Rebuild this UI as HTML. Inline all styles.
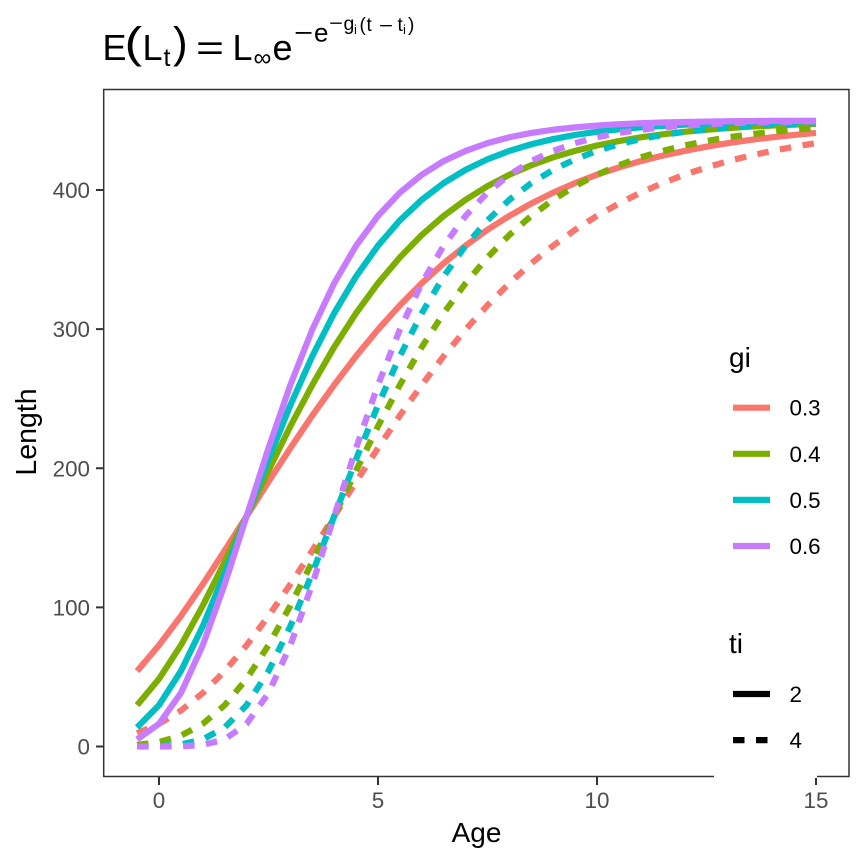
<!DOCTYPE html>
<html>
<head>
<meta charset="utf-8">
<title>Gompertz growth curves</title>
<style>
html,body{margin:0;padding:0;background:#fff;}
svg{display:block;}
text{font-family:"Liberation Sans",sans-serif;}
</style>
</head>
<body>
<svg id="chart" xmlns="http://www.w3.org/2000/svg" width="864" height="864" viewBox="0 0 864 864">
  <rect x="0" y="0" width="864" height="864" fill="#fff"/>
  <g id="series-layer"></g>
  <rect x="103.7" y="89.5" width="745.3" height="687" fill="none" stroke="#333" stroke-width="1.5"/>
  <g id="x-axis"></g>
  <g id="y-axis"></g>
  <text x="476.5" y="842" font-size="28" text-anchor="middle" fill="#000">Age</text>
  <text transform="translate(36,432) rotate(-90)" font-size="28.5" text-anchor="middle" fill="#000">Length</text>
  <g fill="#000">
    <text x="102.5" y="60" font-size="36">E</text>
    <text x="124.5" y="57.5" font-size="44" transform="translate(124.5,57.5) scale(1.2,1) translate(-124.5,-57.5)">(</text>
    <text x="142.5" y="60" font-size="36">L</text>
    <text x="163.5" y="66" font-size="25">t</text>
    <text x="173" y="57.5" font-size="44">)</text>
    <text x="196" y="60" font-size="36" textLength="28" lengthAdjust="spacingAndGlyphs">=</text>
    <text x="232.5" y="60" font-size="36">L</text>
    <text x="253.5" y="66" font-size="25">∞</text>
    <text x="272.5" y="60" font-size="36">e</text>
    <text x="294" y="41.5" font-size="26" textLength="19" lengthAdjust="spacingAndGlyphs">−</text>
    <text x="314" y="41.5" font-size="26">e</text>
    <text x="329" y="29.5" font-size="19" textLength="14" lengthAdjust="spacingAndGlyphs">−</text>
    <text x="343.5" y="30" font-size="19.5">g</text>
    <text x="354" y="34" font-size="13">i</text>
    <text x="359.5" y="31" font-size="19">(</text>
    <text x="366.5" y="31" font-size="19">t</text>
    <text x="379" y="32" font-size="19" textLength="14" lengthAdjust="spacingAndGlyphs">−</text>
    <text x="397.5" y="31" font-size="19">t</text>
    <text x="403" y="34" font-size="13">i</text>
    <text x="408" y="31" font-size="19">)</text>
  </g>
  <rect x="714" y="330" width="103" height="448" fill="#fff"/>
  <g id="legend-gi">
    <text x="729" y="367" font-size="28" fill="#000">gi</text>
  </g>
  <g id="legend-ti">
    <text x="729" y="653" font-size="28" fill="#000">ti</text>
  </g>
  <line x1="816" y1="778" x2="816" y2="785" stroke="#333" stroke-width="2"/>
</svg>
<script>
const ages = [-0.5,0,0.5,1,1.5,2,2.5,3,3.5,4,4.5,5,5.5,6,6.5,7,7.5,8,8.5,9,9.5,10,10.5,11,11.5,12,12.5,13,13.5,14,14.5,15];
const gi03ti2 = [54.2,72.8,93.8,116.6,140.8,165.5,190.3,214.5,237.9,259.9,280.6,299.7,317.1,333.0,347.3,360.0,371.4,381.4,390.3,398.1,405.0,411.0,416.2,420.8,424.7,428.1,431.1,433.7,436.0,437.9,439.6,441.0];
const gi03ti4 = [9.5,16.3,25.8,38.4,54.2,72.8,93.8,116.6,140.8,165.5,190.3,214.5,237.9,259.9,280.6,299.7,317.1,333.0,347.3,360.0,371.4,381.4,390.3,398.1,405.0,411.0,416.2,420.8,424.7,428.1,431.1,433.7];
const gi04ti2 = [29.7,48.6,72.8,101.3,132.7,165.5,198.4,230.2,259.9,287.1,311.5,333.0,351.6,367.7,381.4,393.0,402.8,411.0,417.8,423.5,428.1,432.0,435.2,437.9,440.0,441.8,443.3,444.5,445.5,446.3,447.0,447.5];
const gi04ti4 = [1.1,3.2,7.8,16.3,29.7,48.6,72.8,101.3,132.7,165.5,198.4,230.2,259.9,287.1,311.5,333.0,351.6,367.7,381.4,393.0,402.8,411.0,417.8,423.5,428.1,432.0,435.2,437.9,440.0,441.8,443.3,444.5];
const gi05ti2 = [13.7,29.7,54.2,86.5,124.6,165.5,206.5,245.4,280.6,311.5,337.9,360.0,378.2,393.0,405.0,414.5,422.1,428.1,432.9,436.6,439.6,441.8,443.6,445.0,446.1,447.0,447.6,448.2,448.6,448.9,449.1,449.3];
const gi05ti4 = [0.03,0.3,1.4,5.1,13.7,29.7,54.2,86.5,124.6,165.5,206.5,245.4,280.6,311.5,337.9,360.0,378.2,393.0,405.0,414.5,422.1,428.1,432.9,436.6,439.6,441.8,443.6,445.0,446.1,447.0,447.6,448.2];
const gi06ti2 = [5.1,16.3,38.4,72.8,116.6,165.5,214.5,259.9,299.7,333.0,360.0,381.4,398.1,411.0,420.8,428.1,433.7,437.9,441.0,443.3,445.0,446.3,447.3,448.0,448.5,448.9,449.2,449.4,449.5,449.7,449.7,449.8];
const gi06ti4 = [0,0.01,0.13,1.1,5.1,16.3,38.4,72.8,116.6,165.5,214.5,259.9,299.7,333.0,360.0,381.4,398.1,411.0,420.8,428.1,433.7,437.9,441.0,443.3,445.0,446.3,447.3,448.0,448.5,448.9,449.2,449.4];
const xTickLabels = [0,5,10,15];
const yTickLabels = [0,100,200,300,400];
const giLevels = ['0.3','0.4','0.5','0.6'];
const tiLevels = ['2','4'];

const NS = 'http://www.w3.org/2000/svg';
const giColors = {'0.3':'#F8766D','0.4':'#7CAE00','0.5':'#00BFC4','0.6':'#C77CFF'};
const DASH = '11.5 11.5';
const LINE_W = 6.2;

function xScale(v){ return 159 + v * (816 - 159) / 15; }
function yScale(v){ return 746.5 - v * (746.5 - 190) / 400; }

function make(tag, attrs, parent){
  const el = document.createElementNS(NS, tag);
  for (const k in attrs) el.setAttribute(k, attrs[k]);
  parent.appendChild(el);
  return el;
}

const seriesLayer = document.getElementById('series-layer');
const seriesList = [
  ['0.3','2',gi03ti2],['0.3','4',gi03ti4],
  ['0.4','2',gi04ti2],['0.4','4',gi04ti4],
  ['0.5','2',gi05ti2],['0.5','4',gi05ti4],
  ['0.6','2',gi06ti2],['0.6','4',gi06ti4]
];
seriesList.forEach(function(s){
  const pts = s[2].map(function(v,i){ return xScale(ages[i]).toFixed(2)+','+yScale(v).toFixed(2); }).join(' ');
  const attrs = {points:pts, fill:'none', stroke:giColors[s[0]], 'stroke-width':LINE_W, 'stroke-linejoin':'round', 'stroke-linecap':'butt'};
  if (s[1] === '4') attrs['stroke-dasharray'] = DASH;
  const line = make('polyline', attrs, seriesLayer);
  
  
});

const xAxis = document.getElementById('x-axis');
xTickLabels.forEach(function(v){
  const tick = make('line', {x1:xScale(v), x2:xScale(v), y1:777, y2:785, stroke:'#333', 'stroke-width':2}, xAxis);
  
  
  const label = make('text', {x:xScale(v), y:808, 'font-size':22.4, 'text-anchor':'middle', fill:'#4D4D4D'}, xAxis);
  label.textContent = v;
  
  
});

const yAxis = document.getElementById('y-axis');
yTickLabels.forEach(function(v){
  const tick = make('line', {x1:96, x2:103.5, y1:yScale(v), y2:yScale(v), stroke:'#333', 'stroke-width':2}, yAxis);
  
  
  const label = make('text', {x:90, y:yScale(v)+8, 'font-size':22.4, 'text-anchor':'end', fill:'#4D4D4D'}, yAxis);
  label.textContent = v;
  
  
});

const legendGi = document.getElementById('legend-gi');
giLevels.forEach(function(level, i){
  const y = 407.7 + i * 46.1;
  const key = make('line', {x1:733, x2:770, y1:y, y2:y, stroke:giColors[level], 'stroke-width':LINE_W}, legendGi);
  
  
  const label = make('text', {x:789.5, y:y+8, 'font-size':22.4, fill:'#000'}, legendGi);
  label.textContent = level;
  
  
});

const legendTi = document.getElementById('legend-ti');
tiLevels.forEach(function(level, i){
  const y = 694 + i * 46.1;
  const attrs = {x1:733, x2:770, y1:y, y2:y, stroke:'#000', 'stroke-width':LINE_W};
  if (level === '4') attrs['stroke-dasharray'] = DASH;
  const key = make('line', attrs, legendTi);
  
  
  const label = make('text', {x:789.5, y:y+8, 'font-size':22.4, fill:'#000'}, legendTi);
  label.textContent = level;
  
  
});
</script>
</body>
</html>
